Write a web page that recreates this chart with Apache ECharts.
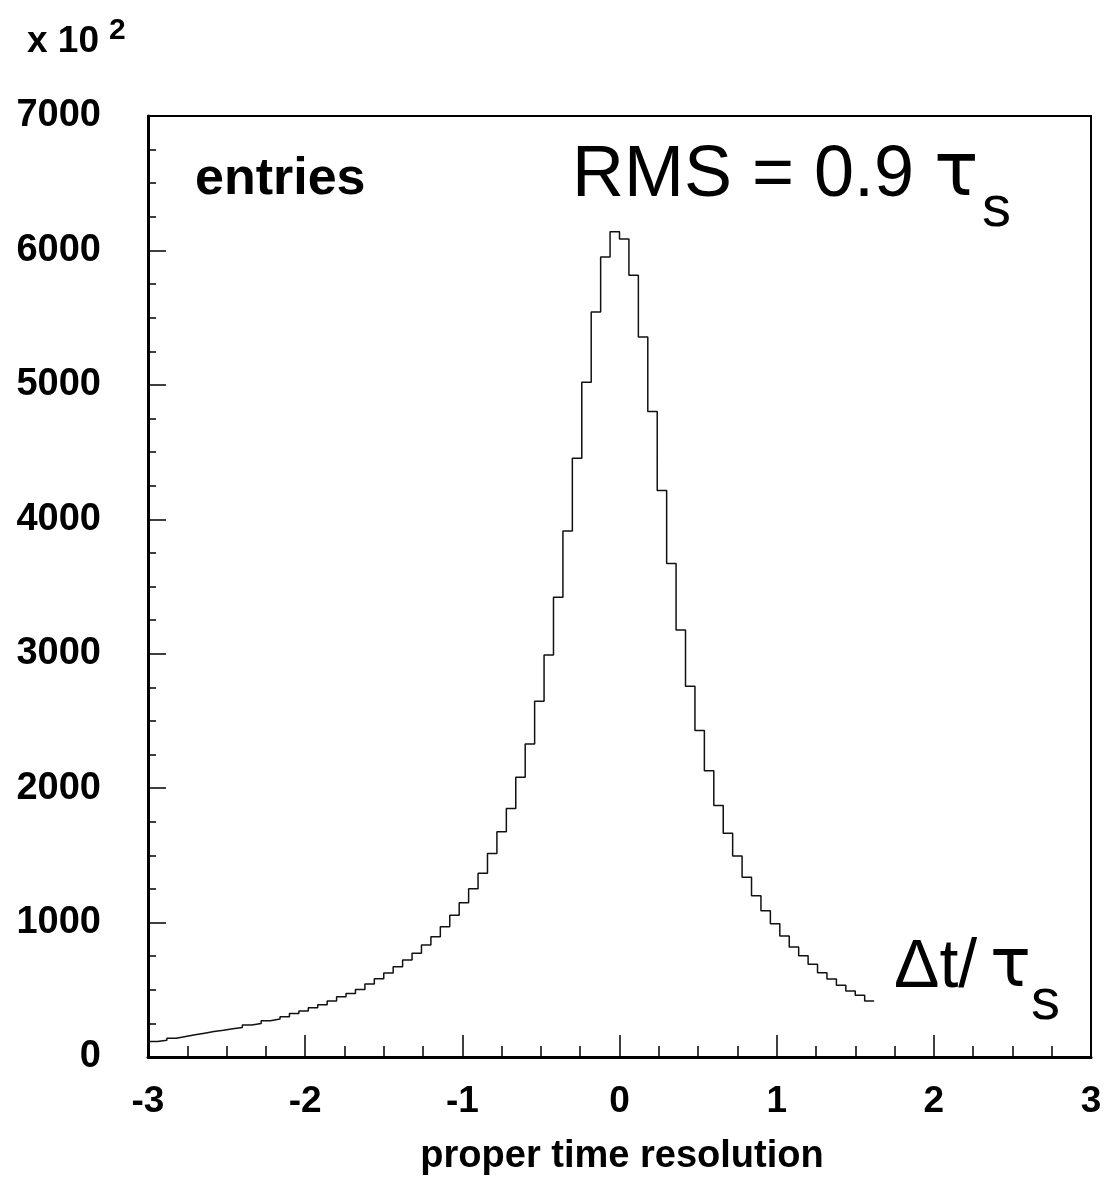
<!DOCTYPE html>
<html>
<head>
<meta charset="utf-8">
<script src="https://cdn.jsdelivr.net/npm/echarts@6/dist/echarts.min.js"></script>
<style>
html,body{margin:0;padding:0;background:#fff;}
#chart{width:1119px;height:1203px;}
</style>
</head>
<body>
<div id="chart"></div>
<script>
// Histogram: proper time resolution, bins of width 0.06 starting at -3 (units of x10^2 entries)
const binStart = -3;
const binWidth = 0.06;
const counts = [
  115, 124, 139, 152, 165, 177, 189, 199, 210, 220,
  238, 250, 269, 282, 300, 324, 343, 366, 388, 417,
  449, 472, 502, 543, 583, 625, 671, 722, 771, 833,
  895, 969, 1054, 1148, 1252, 1366, 1513, 1675, 1848, 2081,
  2328, 2646, 2990, 3420, 3913, 4454, 5019, 5542, 5951, 6139,
  6085, 5815, 5356, 4801, 4215, 3672, 3177, 2758, 2428, 2130,
  1871, 1664, 1495, 1337, 1200, 1088, 992, 900, 818, 754,
  690, 627, 580, 533, 491, 459, 417
];
const xRange = [-3, 3];
const yRange = [0, 7000];
const xTickStep = 1;
const yTickStep = 1000;

// step-line points: left edge of each bin, plus the right edge of the last bin
const histPoints = counts.map((c, i) => [binStart + i * binWidth, c]);
histPoints.push([binStart + counts.length * binWidth, counts[counts.length - 1]]);

const FONT = '"Liberation Sans", Arial, Helvetica, sans-serif';
const GREEK = '"DejaVu Sans", "Liberation Sans", sans-serif';
const chart = echarts.init(document.getElementById('chart'), null, {renderer: 'canvas'});

chart.setOption({
  backgroundColor: '#ffffff',
  animation: false,
  grid: {
    left: 148, right: 28, top: 116, bottom: 146,
    show: true, borderColor: '#000', borderWidth: 2, backgroundColor: 'transparent'
  },
  xAxis: {
    type: 'value',
    min: xRange[0], max: xRange[1], interval: xTickStep,
    axisLine: {show: true, onZero: false, lineStyle: {color: '#000', width: 3}},
    axisTick: {show: true, inside: true, length: 22, lineStyle: {color: '#000', width: 1.5}},
    minorTick: {show: true, splitNumber: 4, length: 11, lineStyle: {color: '#000', width: 1.5}},
    splitLine: {show: false},
    axisLabel: {color: '#000', fontFamily: FONT, fontWeight: 'bold', fontSize: 37, margin: 26,
      formatter: v => String(v)}
  },
  yAxis: {
    type: 'value',
    min: yRange[0], max: yRange[1], interval: yTickStep,
    axisLine: {show: true, onZero: false, lineStyle: {color: '#000', width: 3}},
    axisTick: {show: true, inside: true, length: 18, lineStyle: {color: '#000', width: 1.5}},
    minorTick: {show: true, splitNumber: 4, length: 8, lineStyle: {color: '#000', width: 1.5}},
    splitLine: {show: false},
    axisLabel: {color: '#000', fontFamily: FONT, fontWeight: 'bold', fontSize: 38, margin: 47,
      formatter: v => String(v)}
  },
  series: [{
    type: 'line',
    step: 'end',
    data: histPoints,
    showSymbol: false,
    symbol: 'none',
    lineStyle: {color: '#111', width: 1.5},
    silent: true,
    clip: true
  }],
  graphic: [
    {type: 'text', style: {x: 27, y: 42, text: 'x 10', font: 'bold 37px ' + FONT, fill: '#000', align: 'left', verticalAlign: 'middle'}},
    {type: 'text', style: {x: 109, y: 31, text: '2', font: 'bold 30px ' + FONT, fill: '#000', align: 'left', verticalAlign: 'middle'}},
    {type: 'text', style: {x: 195, y: 180, text: 'entries', font: 'bold 52px ' + FONT, fill: '#000', align: 'left', verticalAlign: 'middle'}},
    {type: 'text', style: {x: 572, y: 176, text: 'RMS = 0.9', font: '72px ' + FONT, fill: '#000', align: 'left', verticalAlign: 'middle'}},
    {type: 'text', style: {x: 934, y: 176, text: '\u03c4', font: '74px ' + GREEK, fill: '#000', align: 'left', verticalAlign: 'middle'}},
    {type: 'text', style: {x: 982, y: 210, text: 's', font: '58px ' + FONT, fill: '#000', align: 'left', verticalAlign: 'middle'}},
    {type: 'text', style: {x: 894, y: 968, text: '\u0394t/', font: '68px ' + FONT, fill: '#000', align: 'left', verticalAlign: 'middle'}},
    {type: 'text', style: {x: 990, y: 968, text: '\u03c4', font: '68px ' + GREEK, fill: '#000', align: 'left', verticalAlign: 'middle'}},
    {type: 'text', style: {x: 1031, y: 1003, text: 's', font: '58px ' + FONT, fill: '#000', align: 'left', verticalAlign: 'middle'}},
    {type: 'text', style: {x: 622, y: 1157, text: 'proper time resolution', font: 'bold 38px ' + FONT, fill: '#000', align: 'center', verticalAlign: 'middle'}}
  ]
});
</script>
</body>
</html>
